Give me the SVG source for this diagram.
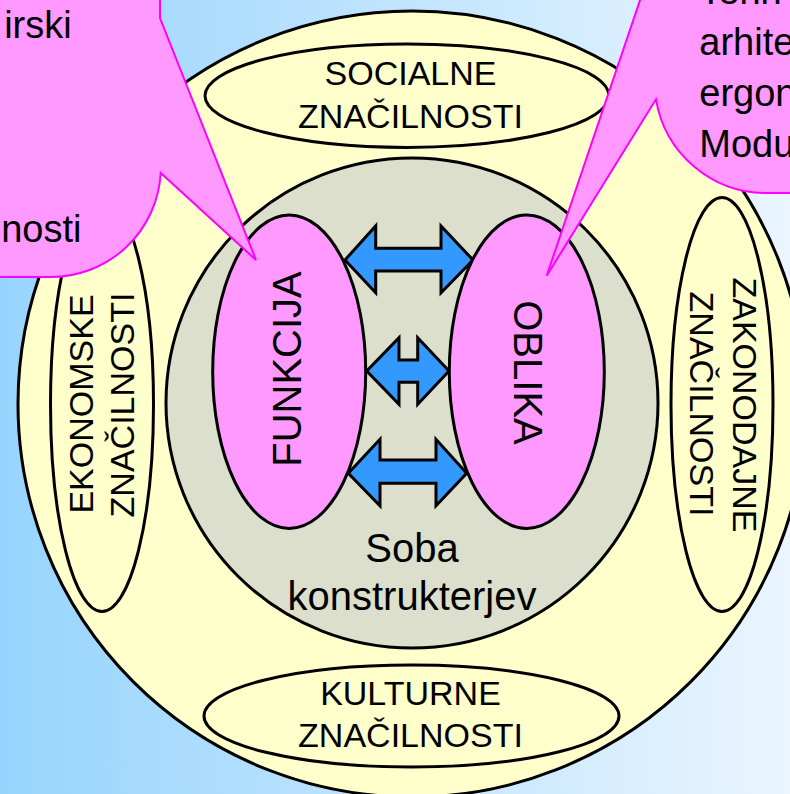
<svg xmlns="http://www.w3.org/2000/svg" width="790" height="794" viewBox="0 0 790 794">
  <defs>
    <linearGradient id="bg" x1="0" y1="0" x2="1" y2="0">
      <stop offset="0" stop-color="#97D4FD"/>
      <stop offset="1" stop-color="#EAF5FF"/>
    </linearGradient>
    <style>
      .ln { stroke:#000; stroke-width:3; }
      .yel { fill:#FFFFCC; }
      .gry { fill:#DCDFCC; }
      .pnk { fill:#FF99FF; }
      .call { fill:#FF99FF; stroke:#FF00FF; stroke-width:2; stroke-linejoin:miter; }
      .arr { fill:#3399FF; stroke:#000; stroke-width:3; stroke-linejoin:miter; }
      text { font-family:"Liberation Sans", Arial, Helvetica, sans-serif; fill:#000; }
      .t34 { font-size:34px; text-anchor:middle; }
      .t38 { font-size:38px; }
      .t40 { font-size:40px; text-anchor:middle; }
    </style>
  </defs>

  <rect x="0" y="0" width="790" height="794" fill="url(#bg)"/>

  <g id="outer">
    <ellipse class="yel ln" cx="412" cy="404" rx="394" ry="393"/>
  </g>

  <g id="socialne">
    <ellipse class="yel ln" cx="407" cy="95.7" rx="202" ry="51.7"/>
    <text class="t34" x="410.5" y="85">SOCIALNE</text>
    <text class="t34" x="410.5" y="128.3">ZNAČILNOSTI</text>
  </g>

  <g id="kulturne">
    <ellipse class="yel ln" cx="411.5" cy="716" rx="207.5" ry="51"/>
    <text class="t34" x="410.5" y="705">KULTURNE</text>
    <text class="t34" x="410.5" y="746.7">ZNAČILNOSTI</text>
  </g>

  <g id="ekonomske">
    <ellipse class="yel ln" cx="102" cy="404.5" rx="51.5" ry="207"/>
    <g transform="translate(102,404) rotate(-90)">
      <text class="t34" x="0" y="-9.3">EKONOMSKE</text>
      <text class="t34" x="-1" y="32">ZNAČILNOSTI</text>
    </g>
  </g>

  <g id="zakonodajne">
    <ellipse class="yel ln" cx="722" cy="404.5" rx="51" ry="207"/>
    <g transform="translate(722,404) rotate(90)">
      <text class="t34" x="1" y="-11.3">ZAKONODAJNE</text>
      <text class="t34" x="0" y="32">ZNAČILNOSTI</text>
    </g>
  </g>

  <g id="soba">
    <ellipse class="gry ln" cx="412" cy="403" rx="246" ry="245"/>
    <text class="t40" x="412" y="561.7">Soba</text>
    <text class="t40" x="412" y="610">konstrukterjev</text>
  </g>

  <g id="connectors">
    <polygon class="arr" points="345,260 375.7,226 375.7,248.3 441,248.3 441,226 473,260 441,292.7 441,271 375.7,271 375.7,292.7"/>
    <polygon class="arr" points="366.7,371 399,337.7 399,360 417.7,360 417.7,337.7 449,371 417.7,404.3 417.7,382.3 399,382.3 399,404.3"/>
    <polygon class="arr" points="348.3,473.3 380,439.3 380,460 436,460 436,439.3 466.7,473.3 436,505.7 436,483.3 380,483.3 380,505.7"/>
  </g>

  <g id="funkcija">
    <ellipse class="pnk ln" cx="289.2" cy="371.7" rx="76.5" ry="156.7"/>
    <g transform="translate(289,369) rotate(-90)">
      <text class="t40" x="0" y="12">FUNKCIJA</text>
    </g>
  </g>

  <g id="oblika">
    <ellipse class="pnk ln" cx="526.8" cy="371.7" rx="77.5" ry="156.7"/>
    <g transform="translate(527,372.5) rotate(90)">
      <text class="t40" x="0" y="13">OBLIKA</text>
    </g>
  </g>

  <g id="callout-left">
    <path class="call" d="M -20,-20 L 160,-20 L 160,18 L 256,260 L 160.7,173 A 110 110 0 0 1 50,277 L -20,277 Z"/>
    <text class="t38" x="71.7" y="38.3" text-anchor="end">irski</text>
    <text class="t38" x="81.5" y="241.7" text-anchor="end">nosti</text>
  </g>

  <g id="callout-right">
    <path class="call" d="M 810,-60 L 656,-60 L 656,-47 L 546.7,275.7 L 656,99.3 A 112 112 0 0 0 768,193 L 810,193 Z"/>
    <text class="t38" x="699.3" y="4">Tehn</text>
    <text class="t38" x="699.3" y="55">arhite</text>
    <text class="t38" x="699.3" y="106">ergon</text>
    <text class="t38" x="699.3" y="157">Modu</text>
  </g>
</svg>
